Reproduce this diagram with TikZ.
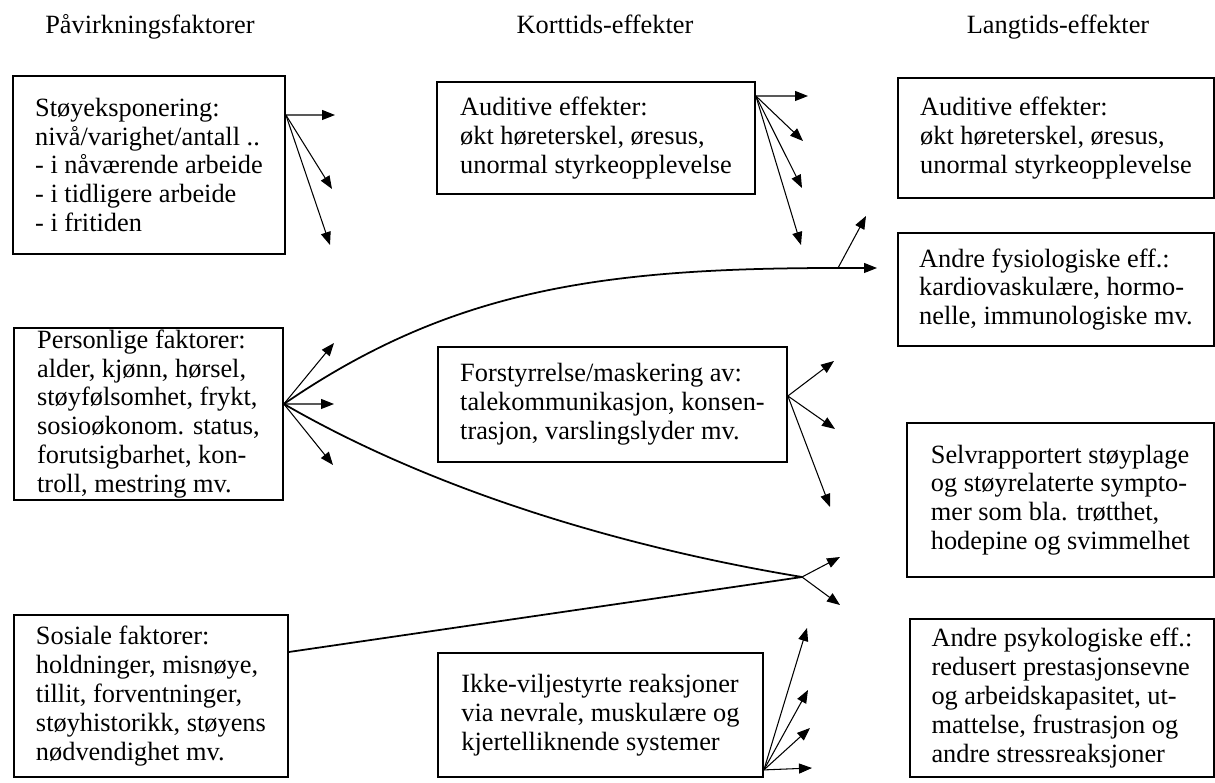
\documentclass[tikz,border=0pt]{standalone}
\usepackage{fontspec}
\setmainfont{Liberation Serif}
\usetikzlibrary{arrows.meta}

\begin{document}
\begin{tikzpicture}[x=0.02cm,y=-0.02cm,
		font=\fontsize{15}{16.4}\selectfont,
		boks/.style={draw,line width=1.1pt,anchor=north west,align=left,inner sep=0pt},
		pil/.style={line width=0.6pt,-{Triangle[length=0.26cm,width=0.2cm]}},
		linje/.style={line width=1pt}]
		\useasboundingbox (0,0) rectangle (1215,783);
		\node[anchor=base] (hdPaav) at (150,34) {Påvirkningsfaktorer};
		\node[anchor=base] (hdKort) at (605,34) {Korttids-effekter};
		\node[anchor=base] (hdLang) at (1058,34) {Langtids-effekter};
		\node[boks,minimum width=5.44cm,minimum height=3.56cm] (stoy) at (12,75) {Støyeksponering:\\nivå/varighet/antall ..\\- i nåværende arbeide\\- i tidligere arbeide\\- i fritiden};
		\node[boks,minimum width=5.38cm,minimum height=3.44cm] (pers) at (13,327) {Personlige faktorer:\\alder, kjønn, hørsel,\\støyfølsomhet, frykt,\\sosioøkonom. status,\\forutsigbarhet, kon-\\troll, mestring mv.};
		\node[boks,minimum width=5.48cm,minimum height=3.24cm] (sos) at (13,614) {Sosiale faktorer:\\holdninger, misnøye,\\tillit, forventninger,\\støyhistorikk, støyens\\nødvendighet mv.};
		\node[boks,minimum width=6.36cm,minimum height=2.24cm] (audK) at (436,81) {Auditive effekter:\\økt høreterskel, øresus,\\unormal styrkeopplevelse};
		\node[boks,minimum width=6.98cm,minimum height=2.30cm] (forst) at (437,346) {Forstyrrelse/maskering av:\\talekommunikasjon, konsen-\\trasjon, varslingslyder mv.};
		\node[boks,minimum width=6.50cm,minimum height=2.48cm] (ikke) at (437,652) {Ikke-viljestyrte reaksjoner\\via nevrale, muskulære og\\kjertelliknende systemer};
		\node[boks,minimum width=6.32cm,minimum height=2.40cm] (audL) at (897,77) {Auditive effekter:\\økt høreterskel, øresus,\\unormal styrkeopplevelse};
		\node[boks,minimum width=6.32cm,minimum height=2.26cm] (fys) at (897,232) {Andre fysiologiske eff.:\\kardiovaskulære, hormo-\\nelle, immunologiske mv.};
		\node[boks,minimum width=6.14cm,minimum height=3.08cm] (selv) at (906,422) {Selvrapportert støyplage\\og støyrelaterte sympto-\\mer som bla. trøtthet,\\hodepine og svimmelhet};
		\node[boks,minimum width=6.08cm,minimum height=3.16cm] (psyk) at (909,618) {Andre psykologiske eff.:\\redusert prestasjonsevne\\og arbeidskapasitet, ut-\\mattelse, frustrasjon og\\andre stressreaksjoner};
		\coordinate (stoyUt) at ([yshift=-0.8cm]stoy.north east);
		\coordinate (persUt) at ([yshift=-1.54cm]pers.north east);
		\coordinate (sosUt) at ([yshift=-0.76cm]sos.north east);
		\coordinate (audKUt) at ([yshift=-0.3cm]audK.north east);
		\coordinate (forstUt) at ([yshift=-1.0cm]forst.north east);
		\coordinate (ikkeUt) at ([yshift=0.16cm]ikke.south east);
		\coordinate (knekk) at (838,268);
		\coordinate (moete) at (802,577);
		\coordinate (s1) at (335,115);
		\coordinate (s2) at (332,189);
		\coordinate (s3) at (330,245);
		\coordinate (p1) at (334,343);
		\coordinate (p2) at (334,404);
		\coordinate (p3) at (333,465);
		\coordinate (a1) at (808,96);
		\coordinate (a2) at (803,141);
		\coordinate (a3) at (802,188);
		\coordinate (a4) at (801,245);
		\coordinate (f1) at (834,361);
		\coordinate (f2) at (835,429);
		\coordinate (f3) at (830,507);
		\coordinate (i1) at (812,768);
		\coordinate (i2) at (810,728);
		\coordinate (i3) at (808,690);
		\coordinate (i4) at (807,628);
		\coordinate (k1) at (877,268);
		\coordinate (k2) at (866,216);
		\coordinate (m1) at (840,557);
		\coordinate (m2) at (840,605);
		\foreach \e in {s1,s2,s3} \draw[pil] (stoyUt) -- (\e);
		\foreach \e in {p1,p2,p3} \draw[pil] (persUt) -- (\e);
		\foreach \e in {a1,a2,a3,a4} \draw[pil] (audKUt) -- (\e);
		\foreach \e in {f1,f2,f3} \draw[pil] (forstUt) -- (\e);
		\foreach \e in {i1,i2,i3,i4} \draw[pil] (ikkeUt) -- (\e);
		\draw[linje] (persUt) .. controls (450,290) and (600,268) .. (knekk);
		\draw[linje] (persUt) .. controls (450,500) and (650,552) .. (moete);
		\draw[linje] (sosUt) -- (moete);
		\foreach \e in {k1,k2} \draw[pil] (knekk) -- (\e);
		\foreach \e in {m1,m2} \draw[pil] (moete) -- (\e);
	\end{tikzpicture}
\end{document}
